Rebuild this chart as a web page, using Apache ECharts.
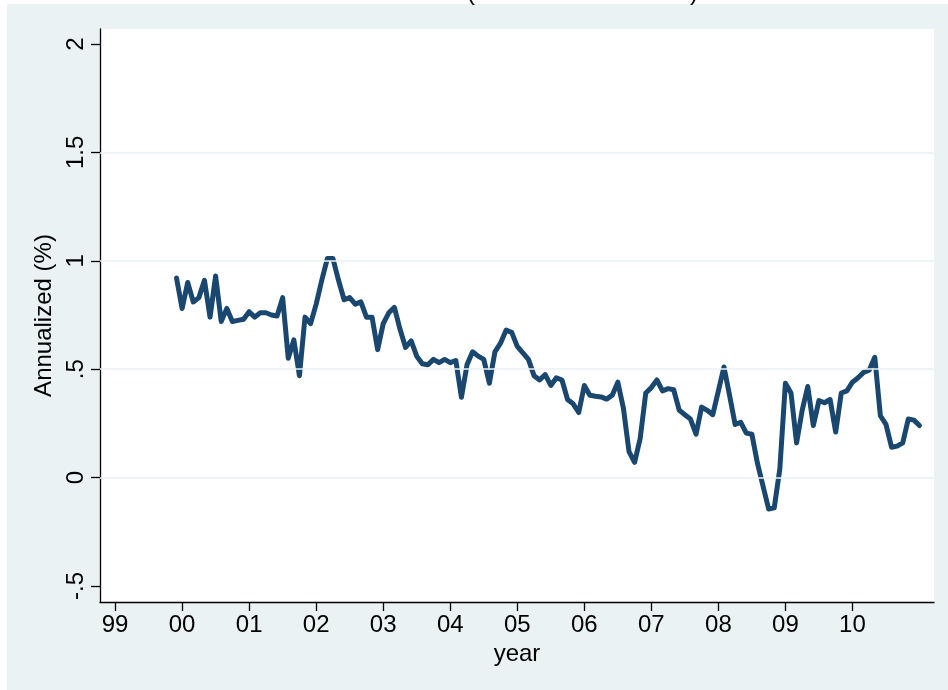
<!DOCTYPE html>
<html>
<head>
<meta charset="utf-8">
<script src="https://cdn.jsdelivr.net/npm/echarts@6/dist/echarts.min.js"></script>
<style>
html,body{margin:0;padding:0;background:#fff;}
#chart{width:948px;height:690px;}
</style>
</head>
<body>
<div id="chart"></div>
<script>
// x positions are months counted from January 1999
const yearLabels = ['99','00','01','02','03','04','05','06','07','08','09','10'];
const yearTickMonths = yearLabels.map((_, i) => i * 12);
const firstMonth = 11; // December 1999
const values = [
  0.92, 0.78, 0.90, 0.81, 0.83, 0.91, 0.74, 0.93, 0.72, 0.78, 0.72, 0.725, 0.73,
  0.765, 0.74, 0.76, 0.76, 0.75, 0.745, 0.83, 0.55, 0.635, 0.47, 0.74, 0.71,
  0.80, 0.91, 1.01, 1.01, 0.91, 0.82, 0.83, 0.80, 0.81, 0.74, 0.74, 0.59,
  0.71, 0.76, 0.785, 0.685, 0.60, 0.63, 0.56, 0.525, 0.52, 0.545, 0.53, 0.545,
  0.53, 0.54, 0.37, 0.52, 0.58, 0.56, 0.545, 0.435, 0.58, 0.62, 0.68, 0.67,
  0.605, 0.575, 0.545, 0.47, 0.45, 0.475, 0.425, 0.46, 0.45, 0.36, 0.34, 0.30,
  0.425, 0.38, 0.375, 0.372, 0.362, 0.38, 0.44, 0.32, 0.12, 0.07, 0.18, 0.39,
  0.415, 0.45, 0.40, 0.41, 0.405, 0.31, 0.29, 0.27, 0.20, 0.325, 0.31, 0.29,
  0.40, 0.51, 0.38, 0.245, 0.255, 0.205, 0.20, 0.065, -0.04, -0.145, -0.14, 0.04,
  0.435, 0.39, 0.16, 0.31, 0.42, 0.24, 0.355, 0.345, 0.36, 0.21, 0.39, 0.40,
  0.44, 0.46, 0.485, 0.495, 0.555, 0.285, 0.245, 0.14, 0.145, 0.16, 0.27, 0.265,
  0.24
];
const yTickValues = [-0.5, 0, 0.5, 1, 1.5, 2];
const yTickLabels = ['-.5', '0', '.5', '1', '1.5', '2'];
const yGridValues = [0, 0.5, 1, 1.5];
const yTitle = 'Annualized (%)';
const xTitle = 'year';

const seriesData = values.map((v, i) => [firstMonth + i, v]);
const FONT = "'Liberation Sans', Arial, Helvetica, sans-serif";
const bg = '#EAF2F3';

const chart = echarts.init(document.getElementById('chart'), null, {renderer: 'canvas'});
chart.setOption({
  backgroundColor: bg,
  animation: false,
  textStyle: {fontFamily: FONT},
  graphic: [
    {type: 'rect', left: 0, top: 0, shape: {width: 948, height: 4}, style: {fill: '#fff'}, z: 0},
    {type: 'rect', left: 0, top: 0, shape: {width: 7, height: 690}, style: {fill: '#fff'}, z: 0},
    {type: 'text', x: 471, y: 5, style: {text: '(', fontSize: 24, fontFamily: FONT, fill: '#000', align: 'center', verticalAlign: 'bottom'}, z: 5},
    {type: 'text', x: 694, y: 5, style: {text: ')', fontSize: 24, fontFamily: FONT, fill: '#000', align: 'center', verticalAlign: 'bottom'}, z: 5}
  ],
  grid: {
    left: 100, right: 14, top: 29, bottom: 88,
    show: true, backgroundColor: '#fff', borderWidth: 0, borderColor: '#fff'
  },
  xAxis: {
    type: 'value',
    min: -2.7, max: 146.6,
    name: xTitle,
    nameLocation: 'middle',
    nameGap: 40,
    nameTextStyle: {fontSize: 24, color: '#000', fontFamily: FONT},
    axisLine: {show: true, onZero: false, lineStyle: {color: '#000', width: 1.3}},
    axisTick: {show: true, length: 9, customValues: yearTickMonths, lineStyle: {color: '#000', width: 1.3}},
    axisLabel: {
      customValues: yearTickMonths,
      margin: 11,
      fontSize: 24, color: '#000', fontFamily: FONT,
      formatter: v => yearLabels[Math.round(v / 12)]
    },
    splitLine: {show: false}
  },
  yAxis: {
    type: 'value',
    min: -0.574, max: 2.069,
    name: yTitle,
    nameLocation: 'middle',
    nameGap: 42,
    nameRotate: 90,
    nameTextStyle: {fontSize: 24, color: '#000', fontFamily: FONT},
    axisLine: {show: true, onZero: false, lineStyle: {color: '#000', width: 1.3}},
    axisTick: {show: true, length: 9, customValues: yTickValues, lineStyle: {color: '#000', width: 1.3}},
    axisLabel: {
      customValues: yTickValues,
      rotate: 90,
      margin: 12,
      fontSize: 24, color: '#000', fontFamily: FONT,
      formatter: v => {
        const k = yTickValues.findIndex(t => Math.abs(t - v) < 1e-9);
        return k >= 0 ? yTickLabels[k] : '';
      }
    },
    splitLine: {show: false}
  },
  series: [
    {
      type: 'line',
      data: [],
      z: 1,
      silent: true,
      markLine: {
        silent: true,
        symbol: ['none', 'none'],
        label: {show: false},
        lineStyle: {color: bg, width: 1.6, type: 'solid'},
        emphasis: {disabled: true},
        data: yGridValues.map(v => ({yAxis: v}))
      }
    },
    {
      type: 'line',
      data: seriesData,
      z: 3,
      showSymbol: false,
      symbol: 'none',
      lineStyle: {color: '#1A476F', width: 5, join: 'round', cap: 'round'},
      itemStyle: {color: '#1A476F'}
    }
  ]
});
</script>
</body>
</html>
